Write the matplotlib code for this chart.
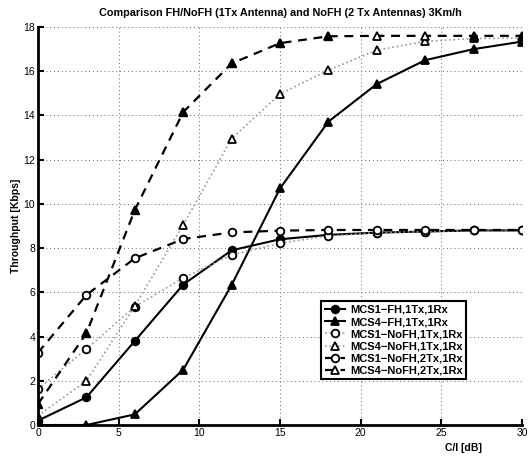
import numpy as np
import matplotlib
matplotlib.use('Agg')
import matplotlib.pyplot as plt

plt.rcParams['font.family'] = ['Liberation Sans', 'DejaVu Sans']

ci = [0, 3, 6, 9, 12, 15, 18, 21, 24, 27, 30]  # C/I [dB]

mcs1_fh = [0.2, 1.25, 3.8, 6.35, 7.9, 8.4, 8.6, 8.7, 8.75, 8.8, 8.8]
mcs4_fh = [0.0, 0.0, 0.48, 2.5, 6.33, 10.7, 13.72, 15.42, 16.5, 17.0, 17.34]
mcs1_nofh_1tx = [1.63, 3.44, 5.35, 6.65, 7.69, 8.22, 8.55, 8.7, 8.75, 8.8, 8.8]
mcs4_nofh_1tx = [0.42, 1.99, 5.38, 9.05, 12.95, 14.97, 16.05, 16.95, 17.35, 17.48, 17.5]
mcs1_nofh_2tx = [3.27, 5.88, 7.54, 8.41, 8.71, 8.79, 8.82, 8.82, 8.82, 8.82, 8.82]
mcs4_nofh_2tx = [0.95, 4.15, 9.72, 14.15, 16.35, 17.27, 17.58, 17.6, 17.6, 17.6, 17.6]

labels = ['MCS1\u2212FH,1Tx,1Rx', 'MCS4\u2212FH,1Tx,1Rx',
          'MCS1\u2212NoFH,1Tx,1Rx', 'MCS4\u2212NoFH,1Tx,1Rx',
          'MCS1\u2212NoFH,2Tx,1Rx', 'MCS4\u2212NoFH,2Tx,1Rx']

fig = plt.figure(figsize=(5.28, 4.57), dpi=100)
ax = fig.add_axes([38 / 528, 32 / 457, 484 / 528, 398 / 457])

kw = dict(markersize=5.5, markeredgewidth=1.3, markeredgecolor='k')
ax.plot(ci, mcs1_fh, '-', color='k', lw=1.5, marker='o', markerfacecolor='k', label=labels[0], **kw)
ax.plot(ci, mcs4_fh, '-', color='k', lw=1.5, marker='^', markerfacecolor='k', label=labels[1], **kw)
ax.plot(ci, mcs1_nofh_1tx, ':', color='0.6', lw=1.2, marker='o', markerfacecolor='w', label=labels[2], **kw)
ax.plot(ci, mcs4_nofh_1tx, ':', color='0.6', lw=1.2, marker='^', markerfacecolor='w', label=labels[3], **kw)
ax.plot(ci, mcs1_nofh_2tx, '--', color='k', lw=1.6, dashes=(4, 3), marker='o', markerfacecolor='w', label=labels[4], **kw)
ax.plot(ci, mcs4_nofh_2tx, '--', color='k', lw=1.6, dashes=(4, 3), marker='^', markerfacecolor='w', label=labels[5], **kw)
# most of the dashed triangles come out filled in the original
filled = [i for i in range(len(ci)) if ci[i] not in (21, 24)]
ax.plot([ci[i] for i in filled], [mcs4_nofh_2tx[i] for i in filled], 'k^', markersize=5.5)

ax.set_xlim(0, 30)
ax.set_ylim(0, 18)
ax.set_xticks(np.arange(0, 31, 5))
ax.set_yticks(np.arange(0, 19, 2))
ax.grid(True, linestyle=(0, (1, 3)), color='0.4', linewidth=0.7)
ax.tick_params(direction='in', length=4, width=1.5, labelsize=7.5, pad=2)
for s in ['top', 'right']:
    ax.spines[s].set_visible(False)
for s in ['left', 'bottom']:
    ax.spines[s].set_linewidth(2)

ax.set_xlabel('C/I [dB]', fontsize=7.5, fontweight='bold', labelpad=1)
ax.set_ylabel('Throughput [Kbps]', fontsize=7.5, fontweight='bold', labelpad=2)
ax.xaxis.set_label_coords(0.88, -0.045)
ax.set_title('Comparison FH/NoFH (1Tx Antenna) and NoFH (2 Tx Antennas) 3Km/h',
             fontsize=7.8, fontweight='bold', pad=8)

leg = ax.legend(loc='lower right', bbox_to_anchor=(0.885, 0.115),
                prop={'weight': 'bold', 'size': 8}, fancybox=False, framealpha=1,
                edgecolor='k', handlelength=1.8, borderpad=0.3, labelspacing=0.2,
                handletextpad=0.5, borderaxespad=0)
leg.get_frame().set_linewidth(1.5)

fig.savefig('out.png', dpi=100)
